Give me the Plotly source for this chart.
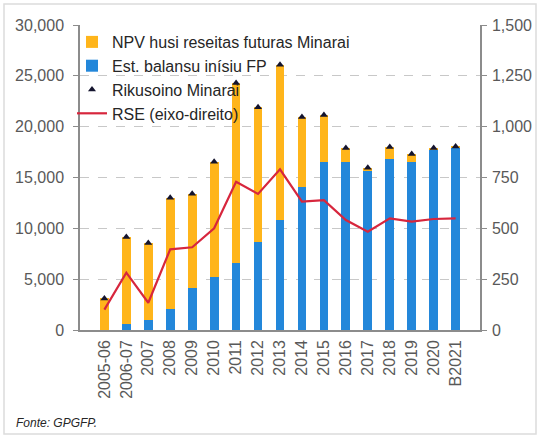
import plotly.graph_objects as go

categories = ["2005-06", "2006-07", "2007", "2008", "2009", "2010", "2011", "2012",
              "2013", "2014", "2015", "2016", "2017", "2018", "2019", "2020", "B2021"]
est_balansu = [0, 600, 1000, 2050, 4150, 5200, 6600, 8650, 10800, 14100,
               16500, 16500, 15650, 16800, 16500, 17700, 17950]
npv_reseitas = [3100, 8550, 7550, 10950, 9250, 11350, 17700, 13250, 15300, 6850,
                4650, 1400, 300, 1200, 800, 200, 100]
rikusoino = [3100, 9150, 8550, 13000, 13400, 16550, 24300, 21900, 26100, 20950,
             21150, 17900, 15950, 18000, 17300, 17900, 18050]
rse = [100, 282, 134, 397, 407, 500, 729, 669, 790, 631,
       639, 541, 483, 549, 533, 546, 549]

FONT = "Liberation Sans, Arial, sans-serif"
GRAY = "#595959"

fig = go.Figure()
fig.add_trace(go.Bar(x=categories, y=est_balansu, name="Est. balansu inísiu FP",
                     marker=dict(color="#2387DA", line=dict(width=0)), legendrank=2))
fig.add_trace(go.Bar(x=categories, y=npv_reseitas, name="NPV husi reseitas futuras Minarai",
                     marker=dict(color="#FFB51B", line=dict(width=0)), legendrank=1))
fig.add_trace(go.Scatter(x=categories, y=rikusoino, name="Rikusoino Minarai", mode="markers",
                         marker=dict(symbol="triangle-up", size=7, color="#14142E"),
                         legendrank=3))
fig.add_trace(go.Scatter(x=categories, y=rse, name="RSE (eixo-direito)", mode="lines",
                         line=dict(color="#D7263D", width=2.2), yaxis="y2", legendrank=4))

fig.update_layout(
    width=537, height=435,
    margin=dict(l=80, r=57, t=25, b=105, autoexpand=False),
    paper_bgcolor="white", plot_bgcolor="white",
    barmode="stack", bargap=0.6,
    font=dict(family=FONT, size=16, color=GRAY),
    showlegend=True,
    legend=dict(x=-0.02, y=1.0, xanchor="left", yanchor="top", traceorder="normal",
                bgcolor="rgba(0,0,0,0)", font=dict(size=16, color="#262626"),
                tracegroupgap=0, itemwidth=30),
    xaxis=dict(type="category", tickangle=-90, showline=True, linecolor="#8c8c8c",
               linewidth=1.5, ticks="", showgrid=False, automargin=False,
               ticklabelstandoff=2, tickfont=dict(size=16, color=GRAY)),
    yaxis=dict(range=[0, 30000], dtick=5000, tickformat=",", showline=True,
               linecolor="#8c8c8c", linewidth=1.5, ticks="outside", ticklen=5,
               tickcolor="#8c8c8c", showgrid=True, gridcolor="#c8c8c8",
               griddash="dash", gridwidth=1, zeroline=False, automargin=False,
               ticklabelstandoff=6, tickfont=dict(size=16, color=GRAY)),
    yaxis2=dict(range=[0, 1500], dtick=250, tickformat=",", overlaying="y", side="right",
                showline=True, linecolor="#8c8c8c", linewidth=1.5, ticks="outside",
                ticklen=5, tickcolor="#8c8c8c", showgrid=False, zeroline=False,
                automargin=False, ticklabelstandoff=2,
                tickfont=dict(size=16, color=GRAY)),
    shapes=[dict(type="rect", xref="paper", yref="paper",
                 x0=-0.19, x1=1.14, y0=-0.341, y1=1.069,
                 line=dict(color="#dcdcdc", width=1.5), fillcolor="rgba(0,0,0,0)",
                 layer="below")],
    annotations=[dict(text="<i>Fonte: GPGFP.</i>", xref="paper", yref="paper",
                      x=-0.165, y=-0.305, xanchor="left", yanchor="middle",
                      showarrow=False, font=dict(size=12, color="#262626"))],
)

fig.write_html("out.html", config={"displayModeBar": False},
               post_script="document.body.style.margin='0px';document.body.style.overflow='hidden';")
